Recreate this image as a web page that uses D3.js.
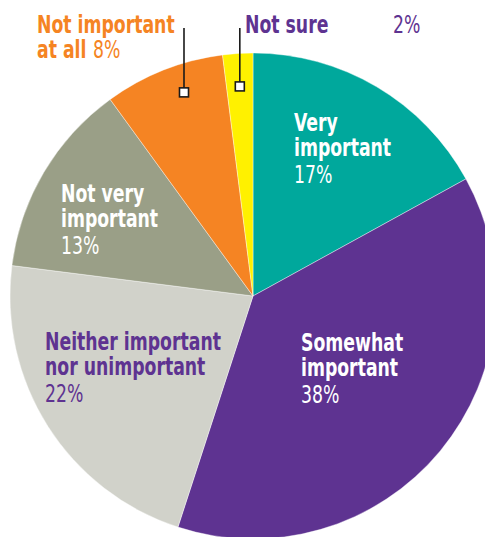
<!DOCTYPE html>
<html>
<head>
<meta charset="utf-8">
<script src="https://cdn.jsdelivr.net/npm/d3@7"></script>
<style>
  html, body { margin: 0; padding: 0; background: #fff; }
  svg { display: block; }
  .lbl { font-family: "DejaVu Sans Condensed", "DejaVu Sans", sans-serif; font-size: 24px; }
  .b { font-weight: 700; }
  .r { font-weight: 400; }
</style>
</head>
<body>
<svg id="chart" width="485" height="537"></svg>
<script>
// Survey answers, clockwise from 12 o'clock
const categories = ["Very important", "Somewhat important", "Neither important nor unimportant",
                    "Not very important", "Not important at all", "Not sure"];
const values = [17, 38, 22, 13, 8, 2];
const sliceColors = ["#00A89C", "#5E3391", "#D1D2CA", "#9A9F87", "#F58423", "#FFF100"];
const percentLabels = values.map(v => v + "%");

const W = 485, H = 537;
const cx = 253, cy = 296, R = 243;
const purple = "#5E3391", orange = "#F58423";
const squeeze = 0.8;   // horizontal condensing of label type

const svg = d3.select("#chart");
const g = svg.append("g").attr("transform", `translate(${cx},${cy})`);

const pie = d3.pie().sort(null).value(d => d);
const arcs = pie(values);
const arc = d3.arc().innerRadius(0).outerRadius(R);

g.selectAll("path.slice")
  .data(arcs)
  .join("path")
  .attr("class", "slice")
  .attr("d", arc)
  .attr("fill", (d, i) => sliceColors[i])
  .attr("stroke", "#fff")
  .attr("stroke-width", 0.4);

// Text blocks: bold lines followed by the percentage
const labelLayout = [
  { i: 0, x: 294, y: 131, lines: ["Very", "important"], color: "#fff", pctInline: false },
  { i: 1, x: 301, y: 351, lines: ["Somewhat", "important"], color: "#fff", pctInline: false },
  { i: 2, x: 45,  y: 350, lines: ["Neither important", "nor unimportant"], color: purple, pctInline: false },
  { i: 3, x: 61,  y: 202, lines: ["Not very", "important"], color: "#fff", pctInline: false },
  { i: 4, x: 37,  y: 33,  lines: ["Not important", "at all"], color: orange, pctInline: true, pctX: 93 },
  { i: 5, x: 245, y: 33,  lines: ["Not sure"], color: purple, pctInline: true, pctX: 393 }
];
const lineH = 25.5, pctGap = 27;

labelLayout.forEach(L => {
  const t = svg.append("text").attr("class", "lbl").attr("fill", L.color)
    .attr("transform", `translate(${L.x},${L.y}) scale(${squeeze},1)`);
  L.lines.forEach((ln, k) => {
    t.append("tspan").attr("class", "b").attr("x", 0).attr("y", k * lineH).text(ln);
  });
  const lastY = (L.lines.length - 1) * lineH;
  if (L.pctInline) {
    t.append("tspan").attr("class", "r")
      .attr("x", (L.pctX - L.x) / squeeze).attr("y", lastY)
      .text(percentLabels[L.i]);
  } else {
    t.append("tspan").attr("class", "r")
      .attr("x", 0).attr("y", lastY + pctGap)
      .text(percentLabels[L.i]);
  }
});

// Leader lines for the two small slices
const callouts = [
  { i: 4, frac: 0.6, r: 215, topY: 28 },
  { i: 5, frac: 0.5, r: 210, topY: 28 }
];
callouts.forEach(c => {
  const a = arcs[c.i];
  const ang = a.startAngle + c.frac * (a.endAngle - a.startAngle);
  const px = cx + c.r * Math.sin(ang);
  const py = cy - c.r * Math.cos(ang);
  svg.append("line")
    .attr("x1", px).attr("x2", px)
    .attr("y1", c.topY).attr("y2", py)
    .attr("stroke", "#1a1a1a").attr("stroke-width", 1.6);
  svg.append("rect")
    .attr("x", px - 4.5).attr("y", py - 4.5)
    .attr("width", 9).attr("height", 9)
    .attr("fill", "#fff").attr("stroke", "#1a1a1a").attr("stroke-width", 1.6);
});
</script>
</body>
</html>
